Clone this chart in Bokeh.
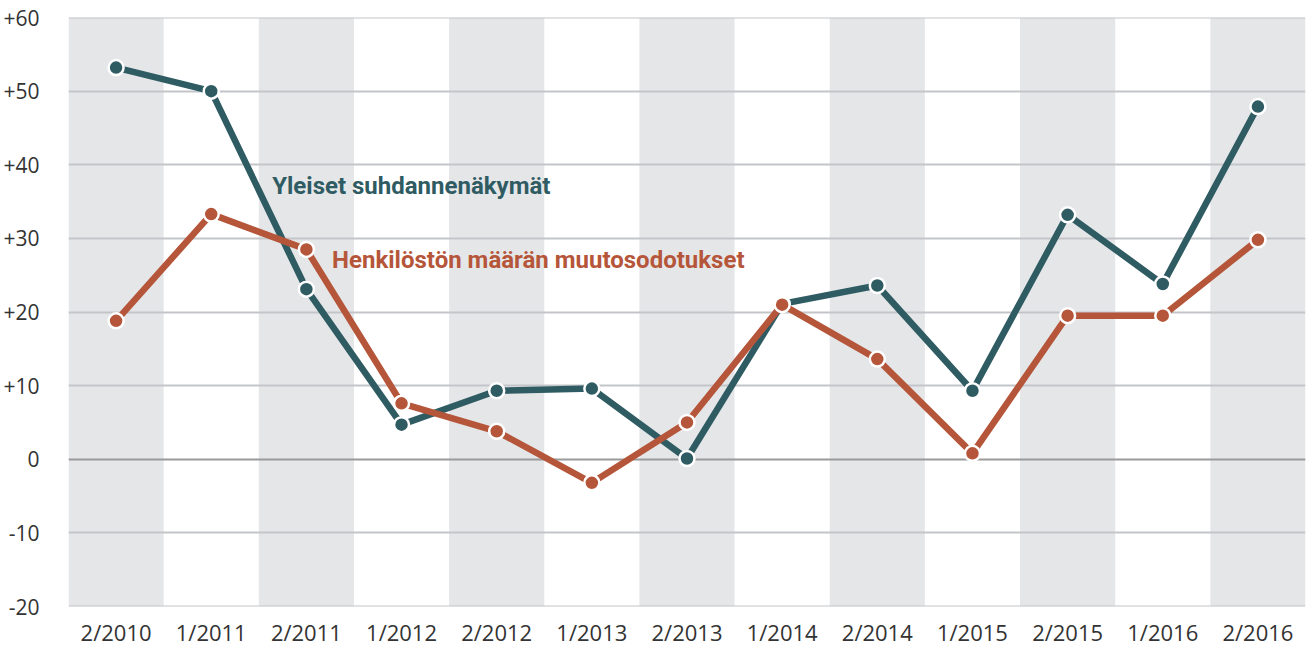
from bokeh.plotting import figure
from bokeh.models import Range1d, FixedTicker
from bokeh.core.properties import value
from bokeh.embed import file_html
from bokeh.resources import INLINE

categories = ["2/2010", "1/2011", "2/2011", "1/2012", "2/2012", "1/2013", "2/2013",
              "1/2014", "2/2014", "1/2015", "2/2015", "1/2016", "2/2016"]
yleiset = [53.2, 50.0, 23.1, 4.7, 9.3, 9.6, 0.1, 21.1, 23.6, 9.3, 33.2, 23.8, 47.9]
henkilosto = [18.8, 33.3, 28.5, 7.6, 3.8, -3.2, 5.0, 21.0, 13.6, 0.8, 19.5, 19.5, 29.8]
y_ticks = [-20, -10, 0, 10, 20, 30, 40, 50, 60]
y_labels = ["-20", "-10", "0", "+10", "+20", "+30", "+40", "+50", "+60"]

GREEN = "#2f5b63"
ORANGE = "#b5563a"
BAND = "#e5e6e8"
GRID = "#c4c5c9"

xs = [i + 0.5 for i in range(len(categories))]

p = figure(width=1309, height=650, output_backend="svg", toolbar_location=None,
           x_range=Range1d(0, len(categories)), y_range=Range1d(-20, 60),
           min_border_left=68, min_border_right=4, min_border_top=17, min_border_bottom=44)
p.outline_line_color = None
p.background_fill_color = "white"
p.border_fill_color = "white"
p.xgrid.visible = False
p.ygrid.visible = False

# alternating bands
band_x = [xs[i] for i in range(0, len(categories), 2)]
p.vbar(x=band_x, width=1, top=60, bottom=-20, fill_color=BAND, line_color=None)

# grid lines
grid_vals = [t for t in y_ticks if t != 0]
p.hspan(y=grid_vals, line_color=GRID, line_width=2)
p.hspan(y=[0], line_color="#9a9a9c", line_width=2.2)

# series
p.line(xs, yleiset, line_color=GREEN, line_width=6.5, line_join="round")
p.scatter(xs, yleiset, size=15, fill_color=GREEN, line_color="white", line_width=2.5)
p.line(xs, henkilosto, line_color=ORANGE, line_width=6.5, line_join="round")
p.scatter(xs, henkilosto, size=15, fill_color=ORANGE, line_color="white", line_width=2.5)

# series labels
p.text(x=[2.14], y=[37.1], text=["Yleiset suhdannenäkymät"], text_color=GREEN,
       text_font=value("Roboto"), text_font_style="bold",
       text_font_size="24px", text_baseline="middle", text_align="left")
p.text(x=[2.77], y=[27.0], text=["Henkilöstön määrän muutosodotukset"], text_color=ORANGE,
       text_font=value("Roboto"), text_font_style="bold",
       text_font_size="24px", text_baseline="middle", text_align="left")

# axes
p.xaxis.ticker = FixedTicker(ticks=xs)
p.xaxis.major_label_overrides = {x: c for x, c in zip(xs, categories)}
p.yaxis.ticker = FixedTicker(ticks=y_ticks)
p.yaxis.major_label_overrides = {t: l for t, l in zip(y_ticks, y_labels)}
for ax in (p.xaxis, p.yaxis):
    ax.axis_line_color = None
    ax.major_tick_line_color = None
    ax.minor_tick_line_color = None
    ax.major_label_text_font = "Open Sans"
    ax.major_label_text_color = "#333333"
p.xaxis.major_label_text_font_size = "22px"
p.yaxis.major_label_text_font_size = "21px"
p.xaxis.major_label_standoff = 4
p.yaxis.major_label_standoff = 23

open("out.html", "w").write(file_html(p, INLINE))
